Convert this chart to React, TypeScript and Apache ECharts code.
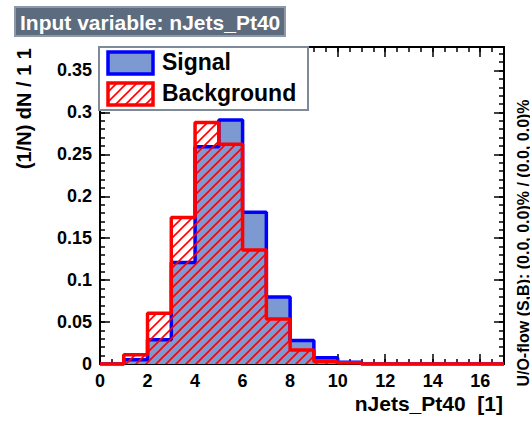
import React, { useEffect, useRef } from "react";
import * as echarts from "echarts";

// bin lower edges 0..16, width 1
const binEdges = [0, 1, 2, 3, 4, 5, 6, 7, 8, 9, 10, 11, 12, 13, 14, 15, 16, 17];
const signalValues = [0, 0.005, 0.029, 0.121, 0.259, 0.291, 0.181, 0.08, 0.028, 0.0075, 0.002, 0, 0, 0, 0, 0, 0];
const backgroundValues = [0, 0.011, 0.0605, 0.1746, 0.288, 0.262, 0.136, 0.0537, 0.0167, 0.003, 0.0015, 0, 0, 0, 0, 0, 0];
const xTickLabels = ["0", "2", "4", "6", "8", "10", "12", "14", "16"];
const yTickLabels = ["0", "0.05", "0.1", "0.15", "0.2", "0.25", "0.3", "0.35"];

const titleText = "Input variable: nJets_Pt40";
const xTitle = "nJets_Pt40  [1]";
const yTitle = "(1/N) dN / 1 1";
const flowText = "U/O-flow (S,B): (0.0, 0.0)% / (0.0, 0.0)%";
const legendNames = ["Signal", "Background"];

const FONT = "'Liberation Sans', Arial, Helvetica, sans-serif";

function makeHatch(color: string) {
  const s = 10;
  const c = document.createElement("canvas");
  c.width = s;
  c.height = s;
  const ctx = c.getContext("2d")!;
  ctx.strokeStyle = color;
  ctx.lineWidth = 1.6;
  ctx.beginPath();
  ctx.moveTo(-1, s + 1);
  ctx.lineTo(s + 1, -1);
  ctx.moveTo(-1, 1);
  ctx.lineTo(1, -1);
  ctx.moveTo(s - 1, s + 1);
  ctx.lineTo(s + 1, s - 1);
  ctx.stroke();
  return { image: c, repeat: "repeat", imageWidth: s, imageHeight: s } as any;
}

function stepData(values: number[]) {
  const pts = values.map((v, i) => [binEdges[i], v]);
  pts.push([binEdges[values.length], values[values.length - 1]]);
  return pts;
}

export default function App() {
  const ref = useRef<HTMLDivElement>(null);
  useEffect(() => {
    if (!ref.current) return;
    const chart = echarts.init(ref.current, undefined, { renderer: "svg" });
    const hatch = makeHatch("#ff0000");
    const hatch2 = makeHatch("#ff0000");
    const xMax = binEdges[binEdges.length - 1];
    const yMax = 0.378;
    const labelStyle = { color: "#000", fontWeight: "bold" as const, fontFamily: FONT, fontSize: 18 };
    const majorX = (pos: "bottom" | "top", labels: boolean) => ({
      type: "value",
      position: pos,
      min: 0,
      max: xMax,
      interval: 2,
      axisLine: { show: true, onZero: false, lineStyle: { color: "#000", width: 2 } },
      axisTick: { show: true, inside: true, length: 10, lineStyle: { color: "#000", width: 1.5 } },
      axisLabel: {
        show: labels,
        margin: 8,
        showMaxLabel: false,
        formatter: (v: number) => {
          const idx = Math.round(v / 2);
          return Math.abs(v - idx * 2) < 1e-6 && xTickLabels[idx] !== undefined ? xTickLabels[idx] : "";
        },
        ...labelStyle,
      },
      splitLine: { show: false },
    });
    const minorX = (pos: "bottom" | "top") => ({
      type: "value",
      position: pos,
      min: 0,
      max: xMax,
      interval: 0.5,
      axisLine: { show: false, onZero: false },
      axisTick: { show: true, inside: true, length: 5, lineStyle: { color: "#000", width: 1.5 } },
      axisLabel: { show: false },
      splitLine: { show: false },
    });
    const majorY = (pos: "left" | "right", labels: boolean) => ({
      type: "value",
      position: pos,
      min: 0,
      max: yMax,
      interval: 0.05,
      axisLine: { show: true, onZero: false, lineStyle: { color: "#000", width: 2 } },
      axisTick: { show: true, inside: true, length: 10, lineStyle: { color: "#000", width: 1.5 } },
      axisLabel: {
        show: labels,
        margin: 8,
        showMaxLabel: false,
        formatter: (v: number) => {
          const idx = Math.round(v / 0.05);
          return Math.abs(v - idx * 0.05) < 1e-6 && yTickLabels[idx] !== undefined ? yTickLabels[idx] : "";
        },
        ...labelStyle,
      },
      splitLine: { show: false },
    });
    const minorY = (pos: "left" | "right") => ({
      type: "value",
      position: pos,
      min: 0,
      max: yMax,
      interval: 0.01,
      axisLine: { show: false, onZero: false },
      axisTick: { show: true, inside: true, length: 5, lineStyle: { color: "#000", width: 1.5 } },
      axisLabel: { show: false },
      splitLine: { show: false },
    });

    const option: any = {
      animation: false,
      backgroundColor: "#fff",
      grid: { left: 100, right: 26, top: 47, bottom: 60, show: false, containLabel: false },
      xAxis: [majorX("bottom", true), minorX("bottom"), majorX("top", false), minorX("top")],
      yAxis: [majorY("left", true), minorY("left"), majorY("right", false), minorY("right")],
      series: [
        {
          name: legendNames[0],
          type: "line",
          xAxisIndex: 0,
          yAxisIndex: 0,
          step: "end",
          symbol: "none",
          data: stepData(signalValues),
          lineStyle: { color: "#0000ff", width: 3.5 },
          itemStyle: { color: "#0000ff" },
          areaStyle: { color: "#7d99d1", opacity: 1 },
          z: 2,
        },
        {
          name: legendNames[1],
          type: "line",
          xAxisIndex: 0,
          yAxisIndex: 0,
          step: "end",
          symbol: "none",
          data: stepData(backgroundValues),
          lineStyle: { color: "#ff0000", width: 3.5 },
          itemStyle: { color: "#ff0000" },
          areaStyle: { color: hatch, opacity: 1 },
          z: 3,
        },
      ],
      graphic: [
        {
          type: "rect",
          shape: { x: 15, y: 7, width: 270, height: 29 },
          style: { fill: "#5d6b7e", stroke: "#8d99a8", lineWidth: 2 },
          z: 10,
        },
        {
          type: "text",
          x: 20,
          y: 22,
          style: {
            text: titleText,
            fill: "#fff",
            font: `bold 21px ${FONT}`,
            verticalAlign: "middle",
            align: "left",
          },
          z: 11,
        },
        {
          type: "rect",
          shape: { x: 99, y: 47, width: 209, height: 63 },
          style: { fill: "#fff", stroke: "#7f8a98", lineWidth: 2 },
          z: 10,
        },
        {
          type: "rect",
          shape: { x: 108, y: 52, width: 45, height: 22 },
          style: { fill: "#7d99d1", stroke: "#0000ff", lineWidth: 3.5 },
          z: 11,
        },
        {
          type: "text",
          x: 162,
          y: 62,
          style: { text: legendNames[0], fill: "#000", font: `bold 23px ${FONT}`, verticalAlign: "middle" },
          z: 11,
        },
        {
          type: "rect",
          shape: { x: 108, y: 83, width: 45, height: 22 },
          style: { fill: hatch2, stroke: "#ff0000", lineWidth: 3.5 },
          z: 11,
        },
        {
          type: "text",
          x: 162,
          y: 93,
          style: { text: legendNames[1], fill: "#000", font: `bold 23px ${FONT}`, verticalAlign: "middle" },
          z: 11,
        },
        {
          type: "text",
          x: 24,
          y: 48,
          rotation: Math.PI / 2,
          style: { text: yTitle, fill: "#000", font: `bold 20px ${FONT}`, align: "right", verticalAlign: "middle" },
          z: 11,
        },
        {
          type: "text",
          x: 503,
          y: 403,
          style: { text: xTitle, fill: "#000", font: `bold 21px ${FONT}`, align: "right", verticalAlign: "middle" },
          z: 11,
        },
        {
          type: "text",
          x: 523,
          y: 243,
          rotation: Math.PI / 2,
          style: { text: flowText, fill: "#000", font: `bold 16px ${FONT}`, align: "center", verticalAlign: "middle" },
          z: 11,
        },
      ],
    };
    chart.setOption(option);
    return () => chart.dispose();
  }, []);
  return <div ref={ref} style={{ width: 530, height: 424, position: "absolute", left: 0, top: 0 }} />;
}
